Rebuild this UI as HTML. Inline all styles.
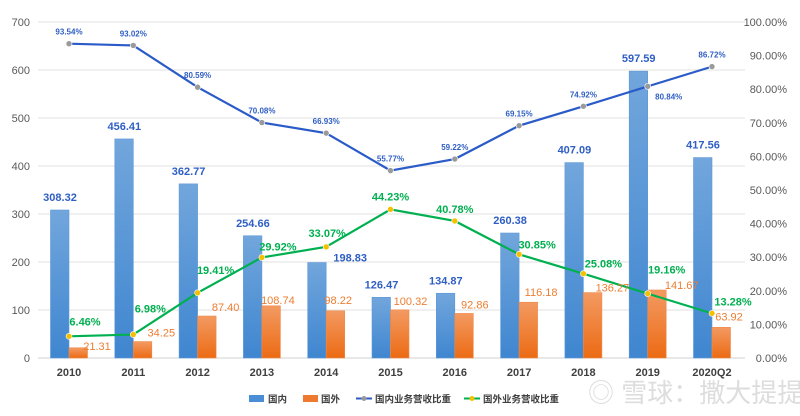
<!DOCTYPE html>
<html><head><meta charset="utf-8"><style>
body{margin:0;background:#fff;}
svg{display:block;font-family:"Liberation Sans","Noto Sans CJK SC",sans-serif;}
</style></head><body>
<svg id="chart" width="800" height="416">
<defs>
<linearGradient id="gb" x1="0" y1="0" x2="0" y2="1"><stop offset="0" stop-color="#72a6dc"/><stop offset="1" stop-color="#3f86d0"/></linearGradient>
<linearGradient id="go" x1="0" y1="0" x2="0" y2="1"><stop offset="0" stop-color="#f39a62"/><stop offset="1" stop-color="#ec6b14"/></linearGradient>
</defs>
<g id="grid"></g><g id="bars"></g><g id="lines"></g><g id="labels"></g>
<g font-size="9.5" font-weight="bold" fill="#404040">
<rect x="249" y="395" width="15" height="7" fill="#4a8fd6"/>
<text x="268" y="402.5">国内</text>
<rect x="303" y="395" width="15" height="7" fill="#ee7a30"/>
<text x="321" y="402.5">国外</text>
<line x1="356" y1="398.5" x2="372" y2="398.5" stroke="#2a5bc8" stroke-width="2"/>
<circle cx="364" cy="398.5" r="2.5" fill="#9a9a9a"/>
<text x="375" y="402.5">国内业务营收比重</text>
<line x1="464" y1="398.5" x2="480" y2="398.5" stroke="#00b050" stroke-width="2"/>
<circle cx="472" cy="398.5" r="2.5" fill="#f5c000"/>
<text x="483" y="402.5">国外业务营收比重</text>
</g>
<text x="588" y="402" font-size="26" fill="#dddddd">◎ 雪球：撒大提提</text>
</svg>
<script>
const categories=["2010","2011","2012","2013","2014","2015","2016","2017","2018","2019","2020Q2"];
const domestic=[308.32,456.41,362.77,254.66,198.83,126.47,134.87,260.38,407.09,597.59,417.56];
const overseas=[21.31,34.25,87.40,108.74,98.22,100.32,92.86,116.18,136.27,141.67,63.92];
const domesticShare=[93.54,93.02,80.59,70.08,66.93,55.77,59.22,69.15,74.92,80.84,86.72];
const overseasShare=[6.46,6.98,19.41,29.92,33.07,44.23,40.78,30.85,25.08,19.16,13.28];
const leftTicks=[0,100,200,300,400,500,600,700];
const rightTicks=[0,10,20,30,40,50,60,70,80,90,100];
const NS="http://www.w3.org/2000/svg";
const x0=69,step=64.3,y0=358,yTop=22;
const xc=i=>x0+i*step;
const yL=v=>y0-(v/700)*(y0-yTop);
const yR=v=>y0-(v/100)*(y0-yTop);
function mk(tag,attrs,parent,text){const e=document.createElementNS(NS,tag);for(const k in attrs)e.setAttribute(k,attrs[k]);if(text!==undefined)e.textContent=text;parent.appendChild(e);return e;}
const G=document.getElementById('grid'),B=document.getElementById('bars'),L=document.getElementById('lines'),T=document.getElementById('labels');
leftTicks.forEach(v=>{
  const y=yL(v);
  const ln=mk('line',{x1:38,x2:745,y1:y,y2:y,stroke:v===0?'#d0d0d0':'#e2e2e2','stroke-width':1},G);
  
  
  const t=mk('text',{x:30,y:y+4,'text-anchor':'end','font-size':11,fill:'#595959'},G,String(v));
  
  
});
rightTicks.forEach(v=>{
  const t=mk('text',{x:787,y:yR(v)+4,'text-anchor':'end','font-size':11,fill:'#595959'},G,v.toFixed(2)+'%');
  
  
});
categories.forEach((c,i)=>{
  const t=mk('text',{x:xc(i),y:376,'text-anchor':'middle','font-size':11,'font-weight':'bold',fill:'#404040'},G,c);
  
  
});
const bw=18.5;
domestic.forEach((v,i)=>{
  const r=mk('rect',{x:xc(i)-bw,y:yL(v),width:bw,height:y0-yL(v),fill:'url(#gb)',stroke:'#5e98d8','stroke-width':0.6},B);
  
  
});
overseas.forEach((v,i)=>{
  const r=mk('rect',{x:xc(i),y:yL(v),width:bw,height:y0-yL(v),fill:'url(#go)',stroke:'#ef8a48','stroke-width':0.6},B);
  
  
});
function line(vals,color,dot,name){
  const pts=vals.map((v,i)=>xc(i)+','+yR(v)).join(' ');
  const p=mk('polyline',{points:pts,fill:'none',stroke:color,'stroke-width':2.2},L);
  
  
  vals.forEach((v,i)=>{
    const c=mk('circle',{cx:xc(i),cy:yR(v),r:3,fill:dot,stroke:'#fff','stroke-width':0.6},L);
    
    
  });
}
line(domesticShare,'#2a5bc8','#9a9a9a','domestic-share-line');
line(overseasShare,'#00b050','#f5c000','overseas-share-line');
const dLabDx=[-9,-9,-9,-9,24,-9,-9,-9,-9,-9,-9];
const oLabDx=[28,28,28,16,12,20,20,22,29,34,17];
const oLabDy=[-2,-9,-9,-6,-11,-9,-9,-10,-5,-5,-11];
const gLabDx=[16,17,18,16,1,0,0,18,20,19,21];
const gLabDy=[-15,-26,-23,-11,-14,-13,-12,-10,-10,-24,-12];
domestic.forEach((v,i)=>{
  const t=mk('text',{x:xc(i)+dLabDx[i],y:yL(v)-(i===4?1:9),'text-anchor':'middle','font-size':11,'font-weight':'bold',fill:'#2f5fc4'},T,v.toFixed(2));
  
  
});
overseas.forEach((v,i)=>{
  const t=mk('text',{x:xc(i)+oLabDx[i],y:yL(v)+oLabDy[i]+4,'text-anchor':'middle','font-size':11,fill:'#ed7d31'},T,v.toFixed(2));
  
  
});
domesticShare.forEach((v,i)=>{
  const below=(i===9);
  const t=mk('text',{x:xc(i)+(below?21:0),y:yR(v)+(below?13:-9),'text-anchor':'middle','font-size':8,'font-weight':'bold',fill:'#2f5fc4'},T,v.toFixed(2)+'%');
  
  
});
overseasShare.forEach((v,i)=>{
  const t=mk('text',{x:xc(i)+gLabDx[i],y:yR(v)+gLabDy[i]+4,'text-anchor':'middle','font-size':11,'font-weight':'bold',fill:'#00b050'},T,v.toFixed(2)+'%');
  
  
});
</script>
</body></html>
